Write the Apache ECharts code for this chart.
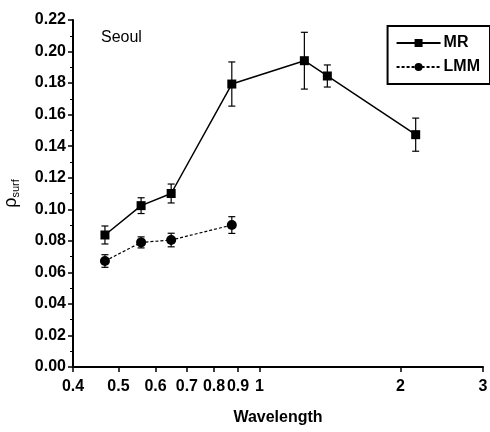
<!DOCTYPE html>
<html>
<head>
<meta charset="utf-8">
<script src="https://cdn.jsdelivr.net/npm/echarts@6/dist/echarts.min.js"></script>
<style>
  html, body { margin: 0; padding: 0; background: #fff; }
  #chart { width: 490px; height: 432px; }
</style>
</head>
<body>
<div id="chart"></div>
<script>
// wavelength (um) and surface reflectance
var mrWave = [0.468, 0.559, 0.648, 0.873, 1.247, 1.396, 2.155];
var mrVal = [0.0837, 0.1023, 0.110, 0.1794, 0.1942, 0.1845, 0.1473];
var mrErr = [0.0057, 0.005, 0.006, 0.014, 0.018, 0.007, 0.0105];

var lmmWave = [0.468, 0.559, 0.648, 0.873];
var lmmVal = [0.0672, 0.079, 0.0805, 0.090];
var lmmErr = [0.004, 0.0035, 0.0043, 0.0053];

var xTicks = [0.4, 0.5, 0.6, 0.7, 0.8, 0.9, 1, 2, 3];

var font = 'Liberation Sans, Arial, sans-serif';

function pairs(xs, ys) {
  return xs.map(function (x, i) { return [x, ys[i]]; });
}
function errData(xs, ys, es) {
  return xs.map(function (x, i) { return [x, ys[i] - es[i], ys[i] + es[i]]; });
}
// 误差棒
function errorBar(params, api) {
  var lo = api.coord([api.value(0), api.value(1)]);
  var hi = api.coord([api.value(0), api.value(2)]);
  var w = 3.5;
  var st = { stroke: '#000', lineWidth: 1.2 };
  return {
    type: 'group',
    children: [
      { type: 'line', shape: { x1: lo[0], y1: lo[1], x2: hi[0], y2: hi[1] }, style: st },
      { type: 'line', shape: { x1: lo[0] - w, y1: lo[1], x2: lo[0] + w, y2: lo[1] }, style: st },
      { type: 'line', shape: { x1: hi[0] - w, y1: hi[1], x2: hi[0] + w, y2: hi[1] }, style: st }
    ]
  };
}

var myChart = echarts.init(document.getElementById('chart'));
var option = {
  animation: false,
  backgroundColor: '#fff',
  title: {
    text: 'Seoul',
    left: 96,
    top: 25,
    textStyle: { fontFamily: font, fontSize: 16, fontWeight: 'normal', color: '#000' }
  },
  legend: {
    right: 0,
    top: 26,
    orient: 'vertical',
    data: ['MR', 'LMM'],
    itemWidth: 44,
    itemHeight: 10,
    itemGap: 8,
    padding: [9, 10, 9, 8],
    borderColor: '#000',
    borderWidth: 2,
    borderRadius: 0,
    textStyle: { fontFamily: font, fontSize: 16, fontWeight: 'bold', color: '#000', padding: [0, 0, 0, -2] }
  },
  grid: { left: 73, right: 7, top: 20, bottom: 65, outerBoundsMode: 'none' },
  xAxis: {
    type: 'log',
    logBase: 10,
    min: 0.4,
    max: 3,
    name: 'Wavelength',
    nameLocation: 'middle',
    nameGap: 43,
    nameTextStyle: { fontFamily: font, fontSize: 16, fontWeight: 'bold', color: '#000' },
    axisLine: { lineStyle: { color: '#000', width: 2 } },
    axisTick: { customValues: xTicks, length: 5, lineStyle: { color: '#000', width: 1.5 } },
    axisLabel: {
      customValues: xTicks,
      margin: 12,
      fontFamily: font, fontSize: 16, fontWeight: 'bold', color: '#000',
      formatter: function (v) { return String(+v.toFixed(2)); }
    },
    minorTick: { show: false },
    splitLine: { show: false }
  },
  yAxis: {
    type: 'value',
    min: 0,
    max: 0.22,
    interval: 0.02,
    name: '{r|ρ}{s|surf}',
    nameLocation: 'middle',
    nameRotate: 90,
    nameGap: 52,
    nameTextStyle: {
      rich: {
        r: { fontFamily: font, fontSize: 18, color: '#000' },
        s: { fontFamily: font, fontSize: 11, color: '#000', verticalAlign: 'bottom', padding: [8, 0, 0, 0] }
      }
    },
    axisLine: { show: true, lineStyle: { color: '#000', width: 2 } },
    axisTick: { length: 5, lineStyle: { color: '#000', width: 1.5 } },
    minorTick: { show: true, splitNumber: 2, length: 3, lineStyle: { color: '#000', width: 1 } },
    axisLabel: {
      margin: 7,
      fontFamily: font, fontSize: 16, fontWeight: 'bold', color: '#000',
      formatter: function (v) { return v.toFixed(2); }
    },
    splitLine: { show: false }
  },
  series: [
    {
      name: 'MR',
      type: 'line',
      data: pairs(mrWave, mrVal),
      symbol: 'rect',
      symbolSize: 9,
      showAllSymbol: true,
      itemStyle: { color: '#000' },
      lineStyle: { color: '#000', width: 1.5 },
      z: 3
    },
    {
      name: 'LMM',
      type: 'line',
      data: pairs(lmmWave, lmmVal),
      symbol: 'circle',
      symbolSize: 10,
      itemStyle: { color: '#000' },
      lineStyle: { color: '#000', width: 1.2, type: [3, 2] },
      z: 3
    },
    {
      type: 'custom',
      data: errData(mrWave, mrVal, mrErr),
      renderItem: errorBar,
      encode: { x: 0, y: [1, 2] },
      silent: true,
      z: 2
    },
    {
      type: 'custom',
      data: errData(lmmWave, lmmVal, lmmErr),
      renderItem: errorBar,
      encode: { x: 0, y: [1, 2] },
      silent: true,
      z: 2
    }
  ]
};
myChart.setOption(option);
</script>
</body>
</html>
